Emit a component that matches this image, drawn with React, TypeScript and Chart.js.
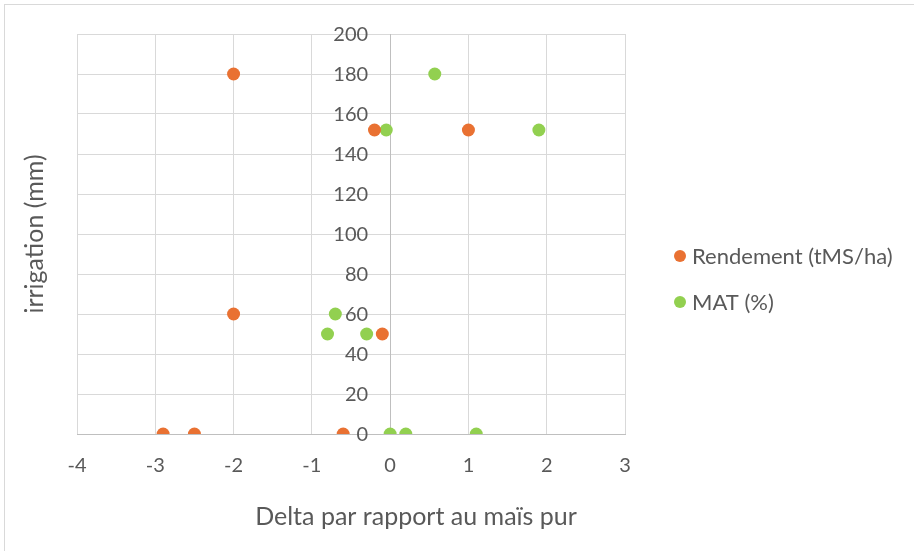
import React, { useEffect, useRef } from "react";
import { Chart, registerables } from "chart.js";

Chart.register(...registerables);

// ---- data ----
const rendementX = [-2, -0.2, 1, -2, -0.1, -2.9, -2.5, -0.6];
const rendementY = [180, 152, 152, 60, 50, 0, 0, 0];
const matX = [0.57, -0.05, 1.9, -0.7, -0.8, -0.3, 0, 0.2, 1.1];
const matY = [180, 152, 152, 60, 50, 50, 0, 0, 0];
const seriesLabels = ["Rendement (tMS/ha)", "MAT (%)"];
const seriesColors = ["#E97132", "#92D050"];
const xTitle = "Delta par rapport au maïs pur";
const yTitle = "irrigation (mm)";
const xMin = -4;
const xMax = 3;
const yMin = 0;
const yMax = 200;
const yStep = 20;
const xStep = 1;

const FONT = "Lato";
const TEXT = "#595959";
const GRID = "#d9d9d9";
const AXIS = "#bfbfbf";

const decor = {
  id: "decor",
  beforeDraw(chart: any) {
    const ctx = chart.ctx;
    ctx.save();
    ctx.fillStyle = "#ffffff";
    ctx.fillRect(0, 0, chart.width, chart.height);
    ctx.strokeStyle = GRID;
    ctx.lineWidth = 1;
    ctx.strokeRect(4.5, 4.5, chart.width + 20, chart.height + 20);
    ctx.restore();
  },
  afterDraw(chart: any) {
    const ctx = chart.ctx;
    const area = chart.chartArea;
    const xs = chart.scales.x;
    const ys = chart.scales.y;
    ctx.save();
    ctx.fillStyle = TEXT;
    // y tick labels at the x = 0 crossing
    ctx.font = `20px ${FONT}`;
    ctx.textAlign = "right";
    ctx.textBaseline = "middle";
    const axisX = xs.getPixelForValue(0);
    ys.ticks.forEach((t: any) => {
      ctx.fillText(String(t.value), axisX - 22, ys.getPixelForValue(t.value) + 1);
    });
    ctx.font = `25px ${FONT}`;
    // x title
    ctx.textAlign = "center";
    ctx.fillText(xTitle, 416, 517);
    // y title
    ctx.save();
    ctx.translate(35, (area.top + area.bottom) / 2);
    ctx.rotate(-Math.PI / 2);
    ctx.fillText(yTitle, 0, 0);
    ctx.restore();
    // legend
    ctx.textAlign = "left";
    ctx.font = `22px ${FONT}`;
    chart.data.datasets.forEach((ds: any, i: number) => {
      const cy = 256 + i * 46;
      ctx.beginPath();
      ctx.fillStyle = ds.backgroundColor;
      ctx.arc(680, cy, 6, 0, Math.PI * 2);
      ctx.fill();
      ctx.fillStyle = TEXT;
      ctx.fillText(ds.label, 692, cy + 1);
    });
    ctx.restore();
  },
};

export default function App() {
  const ref = useRef<HTMLCanvasElement | null>(null);
  useEffect(() => {
    document.body.style.margin = "0";
    const canvas = ref.current!;
    const chart = new Chart(canvas, {
      type: "scatter",
      data: {
        datasets: [
          {
            label: seriesLabels[0],
            data: rendementX.map((x, i) => ({ x, y: rendementY[i] })),
            backgroundColor: seriesColors[0],
            borderColor: seriesColors[0],
            borderWidth: 0,
            pointRadius: 6.5,
          },
          {
            label: seriesLabels[1],
            data: matX.map((x, i) => ({ x, y: matY[i] })),
            backgroundColor: seriesColors[1],
            borderColor: seriesColors[1],
            borderWidth: 0,
            pointRadius: 6.5,
          },
        ],
      },
      options: {
        animation: false,
        responsive: false,
        devicePixelRatio: 1,
        layout: { padding: { left: 77, right: 289, top: 34, bottom: 0 } },
        plugins: { legend: { display: false }, tooltip: { enabled: false } },
        scales: {
          x: {
            type: "linear",
            position: "bottom",
            min: xMin,
            max: xMax,
            afterFit: (s: any) => {
              s.height = 117;
            },
            ticks: {
              stepSize: xStep,
              padding: 20,
              color: TEXT,
              font: { family: FONT, size: 20 },
            },
            grid: { color: GRID, drawTicks: false, lineWidth: 1 },
            border: { color: AXIS, width: 1 },
          },
          y: {
            type: "linear",
            position: { x: 0 } as any,
            min: yMin,
            max: yMax,
            ticks: {
              stepSize: yStep,
              display: false,
            },
            grid: { color: GRID, drawTicks: false, lineWidth: 1 },
            border: { color: AXIS, width: 1 },
          },
        },
      },
      plugins: [decor],
    });
    return () => chart.destroy();
  }, []);
  return (
    <div style={{ position: "fixed", left: 0, top: 0, width: 914, height: 551 }}>
      <canvas ref={ref} width={914} height={551} style={{ width: 914, height: 551, display: "block" }} />
    </div>
  );
}
